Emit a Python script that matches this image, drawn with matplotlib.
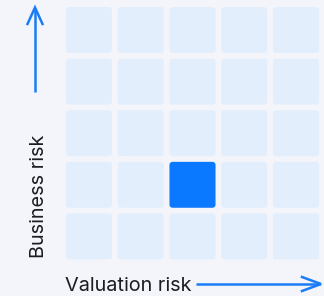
import matplotlib
matplotlib.use("Agg")
import matplotlib.pyplot as plt
from matplotlib.patches import FancyBboxPatch

# Data
valuation_levels = [1, 2, 3, 4, 5]
business_levels = [1, 2, 3, 4, 5]
selected_valuation = 3
selected_business = 2
x_label = "Valuation risk"
y_label = "Business risk"

BG = "#f3f5fa"
CELL = "#e3eefd"
HIGHLIGHT = "#0a78ff"
ARROW = "#1b7cf7"
TEXT = "#1c1d21"

W, H = 324, 296
fig = plt.figure(figsize=(W / 100, H / 100), dpi=100)
fig.patch.set_facecolor(BG)

# grid axes (pixel box)
gx0, gx1 = 63.1, 321.9
gy0, gy1 = 4.2, 262.2
ax = fig.add_axes([gx0 / W, 1 - gy1 / H, (gx1 - gx0) / W, (gy1 - gy0) / H])
ax.set_xlim(0.5, len(valuation_levels) + 0.5)
ax.set_ylim(0.5, len(business_levels) + 0.5)
ax.axis("off")
size = 0.89
for v in valuation_levels:
    for b in business_levels:
        c = HIGHLIGHT if (v == selected_valuation and b == selected_business) else CELL
        ax.add_patch(FancyBboxPatch((v - size / 2, b - size / 2), size, size,
                                    boxstyle="round,pad=0,rounding_size=0.06",
                                    facecolor=c, edgecolor="none"))

# overlay axes for labels and arrows
ov = fig.add_axes([0, 0, 1, 1], zorder=-1)
ov.set_xlim(0, W)
ov.set_ylim(H, 0)
ov.axis("off")
lw = 1.8
# up arrow
ov.plot([35, 35], [92, 8], color=ARROW, lw=lw, solid_capstyle="butt")
ov.plot([27.5, 35, 42.5], [24, 7.5, 24], color=ARROW, lw=lw, solid_joinstyle="miter")
# right arrow
ov.plot([196, 320], [284, 284], color=ARROW, lw=lw, solid_capstyle="butt")
ov.plot([302, 321, 302], [277, 284, 291], color=ARROW, lw=lw, solid_joinstyle="miter")

fs = 14.3
ov.text(65, 291, x_label, fontsize=fs, family="Inter", color=TEXT, va="baseline", ha="left")
ov.text(44, 258, y_label, fontsize=fs, family="Inter", color=TEXT, va="baseline", ha="left",
        rotation=90, rotation_mode="anchor")

fig.savefig("out.png", dpi=100, facecolor=BG)
